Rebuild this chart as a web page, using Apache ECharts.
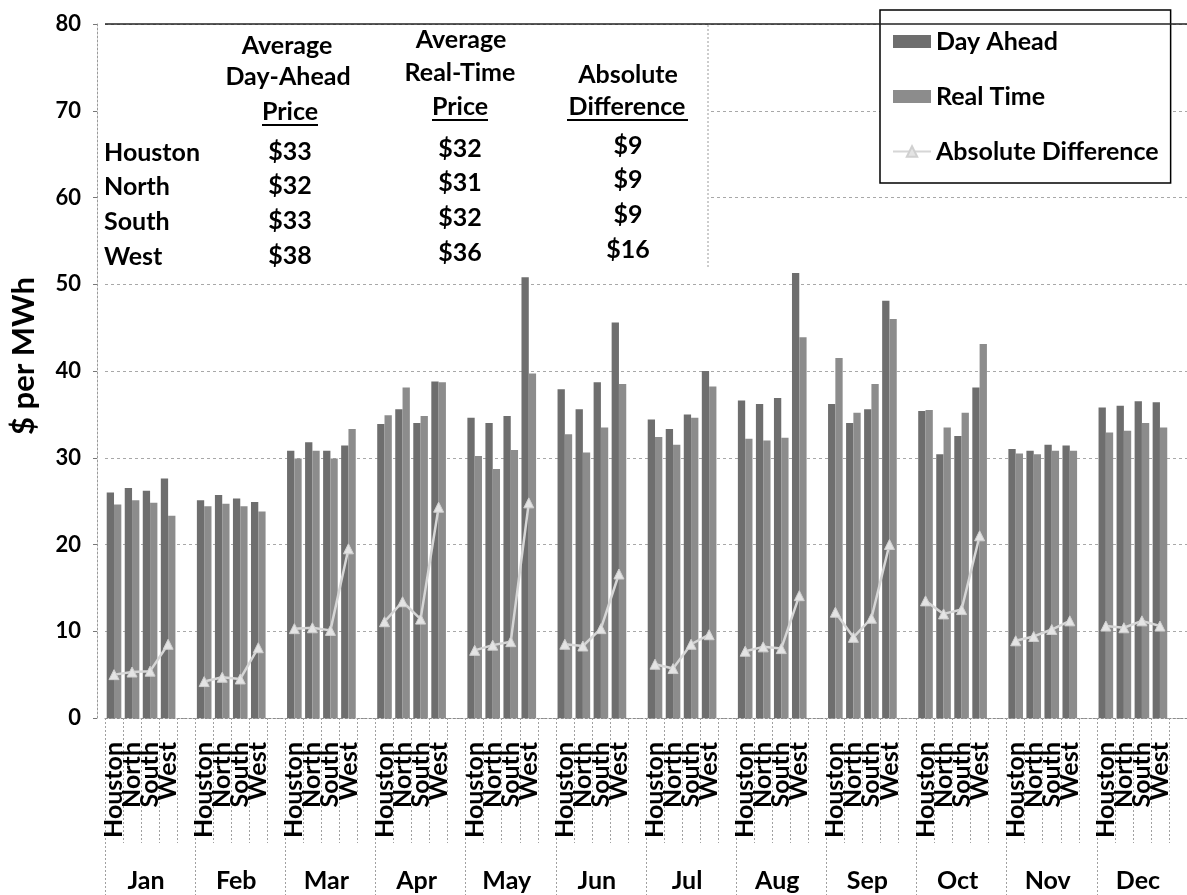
<!DOCTYPE html>
<html>
<head>
<meta charset="utf-8">
<title>Day-Ahead vs Real-Time Prices by Zone</title>
<script src="https://cdn.jsdelivr.net/npm/echarts@6/dist/echarts.min.js"></script>
<style>
  html, body { margin: 0; padding: 0; background: #fff; }
  #chart { width: 1187px; height: 895px; }
</style>
</head>
<body>
<div id="chart"></div>
<script>
// ---- data ($ per MWh), one row per month, columns Houston / North / South / West ----
const months = ['Jan', 'Feb', 'Mar', 'Apr', 'May', 'Jun', 'Jul', 'Aug', 'Sep', 'Oct', 'Nov', 'Dec'];
const zones = ['Houston', 'North', 'South', 'West'];

const dayAhead = [
  [26.0, 26.5, 26.2, 27.6],
  [25.1, 25.7, 25.3, 24.9],
  [30.8, 31.8, 30.8, 31.4],
  [33.9, 35.6, 34.0, 38.8],
  [34.6, 34.0, 34.8, 50.8],
  [37.9, 35.6, 38.7, 45.6],
  [34.4, 33.3, 35.0, 40.0],
  [36.6, 36.2, 36.9, 51.3],
  [36.2, 34.0, 35.6, 48.1],
  [35.4, 30.4, 32.5, 38.1],
  [31.0, 30.8, 31.5, 31.4],
  [35.8, 36.0, 36.5, 36.4]
];

const realTime = [
  [24.6, 25.1, 24.8, 23.3],
  [24.4, 24.7, 24.4, 23.8],
  [29.9, 30.8, 29.9, 33.3],
  [34.9, 38.1, 34.8, 38.7],
  [30.2, 28.7, 30.9, 39.7],
  [32.7, 30.6, 33.5, 38.5],
  [32.4, 31.5, 34.6, 38.2],
  [32.2, 32.0, 32.3, 43.9],
  [41.5, 35.2, 38.5, 46.0],
  [35.5, 33.5, 35.2, 43.1],
  [30.5, 30.4, 30.8, 30.8],
  [32.9, 33.1, 34.0, 33.5]
];

const absDifference = [
  [5.0, 5.3, 5.4, 8.5],
  [4.2, 4.7, 4.5, 8.1],
  [10.3, 10.4, 10.1, 19.5],
  [11.1, 13.4, 11.4, 24.3],
  [7.8, 8.4, 8.8, 24.8],
  [8.5, 8.3, 10.3, 16.6],
  [6.2, 5.7, 8.5, 9.6],
  [7.7, 8.2, 8.0, 14.1],
  [12.2, 9.3, 11.5, 20.0],
  [13.5, 12.0, 12.5, 21.0],
  [8.9, 9.4, 10.2, 11.2],
  [10.6, 10.4, 11.2, 10.6]
];

// annual averages shown in the summary table
const avgDayAhead = [33, 32, 33, 38];
const avgRealTime = [32, 31, 32, 36];
const avgAbsDifference = [9, 9, 9, 16];

const yTicks = { min: 0, max: 80, interval: 10 };

// ---- flatten into one category per zone, plus an empty slot closing each month ----
const categories = [];
const daData = [], rtData = [], diffData = [];
months.forEach((m, i) => {
  zones.forEach((z, j) => {
    categories.push(z);
    daData.push(dayAhead[i][j]);
    rtData.push(realTime[i][j]);
    diffData.push(absDifference[i][j]);
  });
  categories.push('');
  daData.push(null);
  rtData.push(null);
  diffData.push(null);
});

const FONT = 'Lato';
const bold = { fontFamily: FONT, fontWeight: 'bold', color: '#000' };
const dotted = { color: '#a0a0a0', width: 1, type: [2, 2] };

// ---- summary table drawn as graphic text ----
const tableRowY = [153, 187, 222, 257];
const colX = [290, 460, 628];
const colShift = [-1, -4, -7];
const txt = (text, x, y, align) => ({
  type: 'text', z: 20, x: x, y: y,
  style: {
    text: text, fill: '#000', font: 'bold 25px ' + FONT,
    textAlign: align || 'center', textVerticalAlign: 'middle'
  }
});
const uline = (x1, x2, y) => ({
  type: 'line', z: 20, shape: { x1: x1, y1: y, x2: x2, y2: y },
  style: { stroke: '#000', lineWidth: 2 }
});

const tableGraphics = [
  { type: 'rect', z: 10, shape: { x: 98, y: 25, width: 610, height: 242 }, style: { fill: '#fff' } },
  { type: 'line', z: 11, shape: { x1: 708, y1: 25, x2: 708, y2: 267 }, style: { stroke: '#9a9a9a', lineWidth: 1, lineDash: [2, 2] } },
  txt('Average', 287, 46), txt('Day-Ahead', 288, 77), txt('Price', 290, 112), uline(262, 318, 125),
  txt('Average', 461, 40), txt('Real-Time', 460, 73), txt('Price', 460, 107), uline(432, 488, 120),
  txt('Absolute', 628, 75), txt('Difference', 627, 107), uline(567, 688, 120)
];
zones.forEach((z, r) => {
  tableGraphics.push(txt(z, 104, tableRowY[r], 'left'));
  tableGraphics.push(txt('$' + avgDayAhead[r], colX[0], tableRowY[r] + colShift[0]));
  tableGraphics.push(txt('$' + avgRealTime[r], colX[1], tableRowY[r] + colShift[1]));
  tableGraphics.push(txt('$' + avgAbsDifference[r], colX[2], tableRowY[r] + colShift[2]));
});
tableGraphics.push({
  type: 'text', z: 20, x: 24, y: 356, rotation: Math.PI / 2,
  style: { text: '$ per MWh', fill: '#000', font: 'bold 31px ' + FONT, textAlign: 'center', textVerticalAlign: 'middle' }
});

const chart = echarts.init(document.getElementById('chart'), null, { renderer: 'canvas' });

chart.setOption({
  animation: false,
  backgroundColor: '#fff',
  textStyle: { fontFamily: FONT },
  grid: { left: 105, top: 24, width: 1104, bottom: 177, containLabel: false },
  legend: {
    data: [
      { name: 'Day Ahead', icon: 'rect' },
      { name: 'Real Time', icon: 'rect' },
      { name: 'Absolute Difference' }
    ],
    orient: 'vertical',
    left: 880, top: 10,
    padding: [19, 12, 19, 12],
    itemGap: 30, itemWidth: 38, itemHeight: 13,
    backgroundColor: '#fff', borderColor: '#000', borderWidth: 1.5,
    textStyle: { fontFamily: FONT, fontWeight: 'bold', fontSize: 25, color: '#000', lineHeight: 25 }
  },
  xAxis: [
    {
      type: 'category', data: categories, position: 'bottom',
      axisLine: { show: true, lineStyle: { color: '#8a8a8a', width: 1, type: [2, 2] } },
      axisTick: { show: true, interval: 0, length: 125, lineStyle: dotted },
      axisLabel: Object.assign({ interval: 0, rotate: 90, margin: 24, fontSize: 25 }, bold),
      splitLine: { show: false }
    },
    {
      type: 'category', data: months, position: 'bottom', offset: 0,
      axisLine: { show: false },
      axisTick: { show: true, length: 177, lineStyle: dotted },
      axisLabel: Object.assign({ interval: 0, margin: 150, fontSize: 25, padding: [0, 8, 0, 0] }, bold),
      splitLine: { show: false }
    }
  ],
  yAxis: {
    type: 'value', min: yTicks.min, max: yTicks.max, interval: yTicks.interval,
    offset: 8,
    axisLine: { show: true, lineStyle: { color: '#9a9a9a', width: 1, type: [2, 2] } },
    axisTick: { show: true, length: 4, lineStyle: { color: '#777' } },
    axisLabel: Object.assign({ margin: 16, fontSize: 22 }, bold),
    splitLine: { show: true, lineStyle: { color: '#a8a8a8', width: 1, type: [3, 3] } }
  },
  series: [
    {
      name: 'Day Ahead', type: 'bar', data: daData,
      barGap: '0%', barCategoryGap: '19%',
      itemStyle: { color: '#6e6e6e' },
      markLine: {
        silent: true, symbol: 'none', label: { show: false },
        lineStyle: { color: '#222', width: 1.5, type: 'solid' },
        data: [{ yAxis: yTicks.max }]
      }
    },
    {
      name: 'Real Time', type: 'bar', data: rtData,
      barGap: '0%', barCategoryGap: '19%',
      itemStyle: { color: '#8c8c8c' }
    },
    {
      name: 'Absolute Difference', type: 'line', data: diffData,
      connectNulls: false, z: 5,
      symbol: 'triangle', symbolSize: 10, showSymbol: true,
      lineStyle: { color: '#d6d6d6', width: 2.5 },
      itemStyle: { color: '#e4e4e4', borderColor: '#d0d0d0', borderWidth: 1 }
    }
  ],
  graphic: tableGraphics
});
</script>
</body>
</html>
